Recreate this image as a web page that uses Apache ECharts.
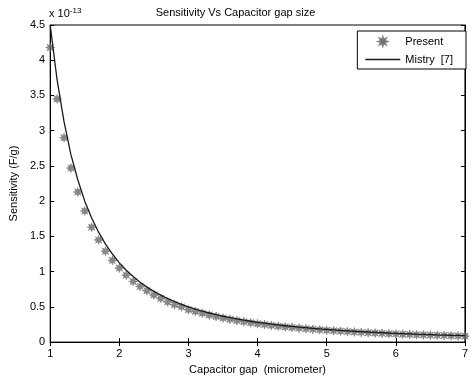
<!DOCTYPE html>
<html><head><meta charset="utf-8">
<script src="https://cdn.jsdelivr.net/npm/echarts@6/dist/echarts.min.js"></script>
<style>html,body{margin:0;padding:0;background:#fff}#c{width:471px;height:380px}</style>
</head><body><div id="c"></div>
<script>
// capacitor gap (micrometer)
var gap = [1.0,1.1,1.2,1.3,1.4,1.5,1.6,1.7,1.8,1.9,2.0,2.1,2.2,2.3,2.4,2.5,2.6,2.7,2.8,2.9,3.0,3.1,3.2,3.3,3.4,3.5,3.6,3.7,3.8,3.9,4.0,4.1,4.2,4.3,4.4,4.5,4.6,4.7,4.8,4.9,5.0,5.1,5.2,5.3,5.4,5.5,5.6,5.7,5.8,5.9,6.0,6.1,6.2,6.3,6.4,6.5,6.6,6.7,6.8,6.9,7.0];
// sensitivity, units of 1e-13 F/g
var present = [4.18,3.45,2.90,2.47,2.13,1.86,1.63,1.45,1.29,1.16,1.05,0.95,0.86,0.79,0.73,0.67,0.62,0.57,0.53,0.50,0.46,0.435,0.41,0.384,0.362,0.341,0.323,0.305,0.289,0.275,0.261,0.249,0.237,0.226,0.216,0.206,0.198,0.189,0.181,0.174,0.167,0.161,0.155,0.149,0.143,0.138,0.133,0.129,0.124,0.120,0.116,0.112,0.109,0.105,0.102,0.099,0.096,0.093,0.090,0.088,0.085];
var mistry = [4.50,3.72,3.13,2.66,2.30,2.00,1.76,1.56,1.39,1.25,1.125,1.02,0.93,0.85,0.78,0.72,0.666,0.617,0.574,0.535,0.50,0.468,0.439,0.413,0.389,0.367,0.347,0.329,0.312,0.296,0.281,0.268,0.255,0.243,0.232,0.222,0.213,0.204,0.195,0.187,0.180,0.173,0.166,0.160,0.154,0.149,0.143,0.139,0.134,0.129,0.125,0.121,0.117,0.113,0.110,0.107,0.103,0.100,0.097,0.095,0.092];
var xTicks = [1,2,3,4,5,6,7];
var yTicks = [0,0.5,1,1.5,2,2.5,3,3.5,4,4.5];

var presentData = gap.map(function(g,i){return [g, present[i]];});
var mistryData = gap.map(function(g,i){return [g, mistry[i]];});
var star = 'path://M10,5 L7.22,5.92 L8.54,8.54 L5.92,7.22 L5,10 L4.08,7.22 L1.46,8.54 L2.78,5.92 L0,5 L2.78,4.08 L1.46,1.46 L4.08,2.78 L5,0 L5.92,2.78 L8.54,1.46 L7.22,4.08 Z';
var lineIcon = 'path://M0,0 L35,0 L35,1.3 L0,1.3 Z';
var font = 'Liberation Sans, Arial, sans-serif';
var chart = echarts.init(document.getElementById('c'), null, {renderer:'canvas'});
var axisCommon = {
  axisLine: {show: true, lineStyle: {color: '#000', width: 1}},
  axisTick: {show: true, inside: true, length: 4, lineStyle: {color: '#000'}},
  splitLine: {show: false}
};
chart.setOption({
  animation: false,
  backgroundColor: '#fff',
  textStyle: {fontFamily: font},
  title: {text: 'Sensitivity Vs Capacitor gap size', left: 'center', top: 2,
    textStyle: {fontSize: 11, fontWeight: 'normal', color: '#000', fontFamily: font}},
  grid: {left: 46.5, right: 2, top: 25, bottom: 37, show: true, borderColor: '#000', borderWidth: 1},
  legend: {
    orient: 'vertical', right: 5, top: 31, padding: [5, 13, 4, 8], itemGap: 7,
    backgroundColor: '#fff', borderColor: '#000', borderWidth: 1, borderRadius: 0,
    itemWidth: 35, itemHeight: 8, symbolKeepAspect: true,
    textStyle: {fontSize: 11, color: '#000', fontFamily: font},
    data: [{name: 'Present', icon: star}, {name: 'Mistry  [7]', icon: lineIcon}]
  },
  graphic: [{type: 'text', left: 49, top: 7, style: {
    text: '{a|x 10}{b|-13}',
    rich: {a: {fontSize: 11, fontFamily: font, fill: '#000'}, b: {fontSize: 8, fontFamily: font, fill: '#000', verticalAlign: 'top', padding: [0,0,6,0]}}
  }}],
  xAxis: [
    Object.assign({}, axisCommon, {type: 'value', min: 1, max: 7, interval: 1, position: 'bottom',
      name: 'Capacitor gap  (micrometer)', nameLocation: 'middle', nameGap: 21,
      nameTextStyle: {fontSize: 11, color: '#000', fontFamily: font},
      axisLabel: {fontSize: 11, color: '#000', margin: 6, fontFamily: font,
        formatter: function(v){ return xTicks.indexOf(v) >= 0 ? String(v) : ''; }}}),
    Object.assign({}, axisCommon, {type: 'value', min: 1, max: 7, interval: 1, position: 'top', axisLabel: {show: false}})
  ],
  yAxis: [
    Object.assign({}, axisCommon, {type: 'value', min: 0, max: 4.5, interval: 0.5, position: 'left',
      name: 'Sensitivity (F/g)', nameLocation: 'middle', nameGap: 28,
      nameTextStyle: {fontSize: 11, color: '#000', fontFamily: font},
      axisLabel: {fontSize: 11, color: '#000', margin: 5, fontFamily: font,
        formatter: function(v){ return yTicks.indexOf(v) >= 0 ? String(v) : ''; }}}),
    Object.assign({}, axisCommon, {type: 'value', min: 0, max: 4.5, interval: 0.5, position: 'right', axisLabel: {show: false}})
  ],
  series: [
    {name: 'Present', type: 'scatter', data: presentData, symbol: star, symbolSize: 9,
      itemStyle: {color: '#6a6a6a', borderColor: '#6a6a6a', borderWidth: 0.6}, z: 2},
    {name: 'Mistry  [7]', type: 'line', data: mistryData, showSymbol: false, symbol: 'none', smooth: false,
      lineStyle: {color: '#1a1a1a', width: 1.3}, itemStyle: {color: '#1a1a1a'}, z: 3}
  ]
});
</script></body></html>
